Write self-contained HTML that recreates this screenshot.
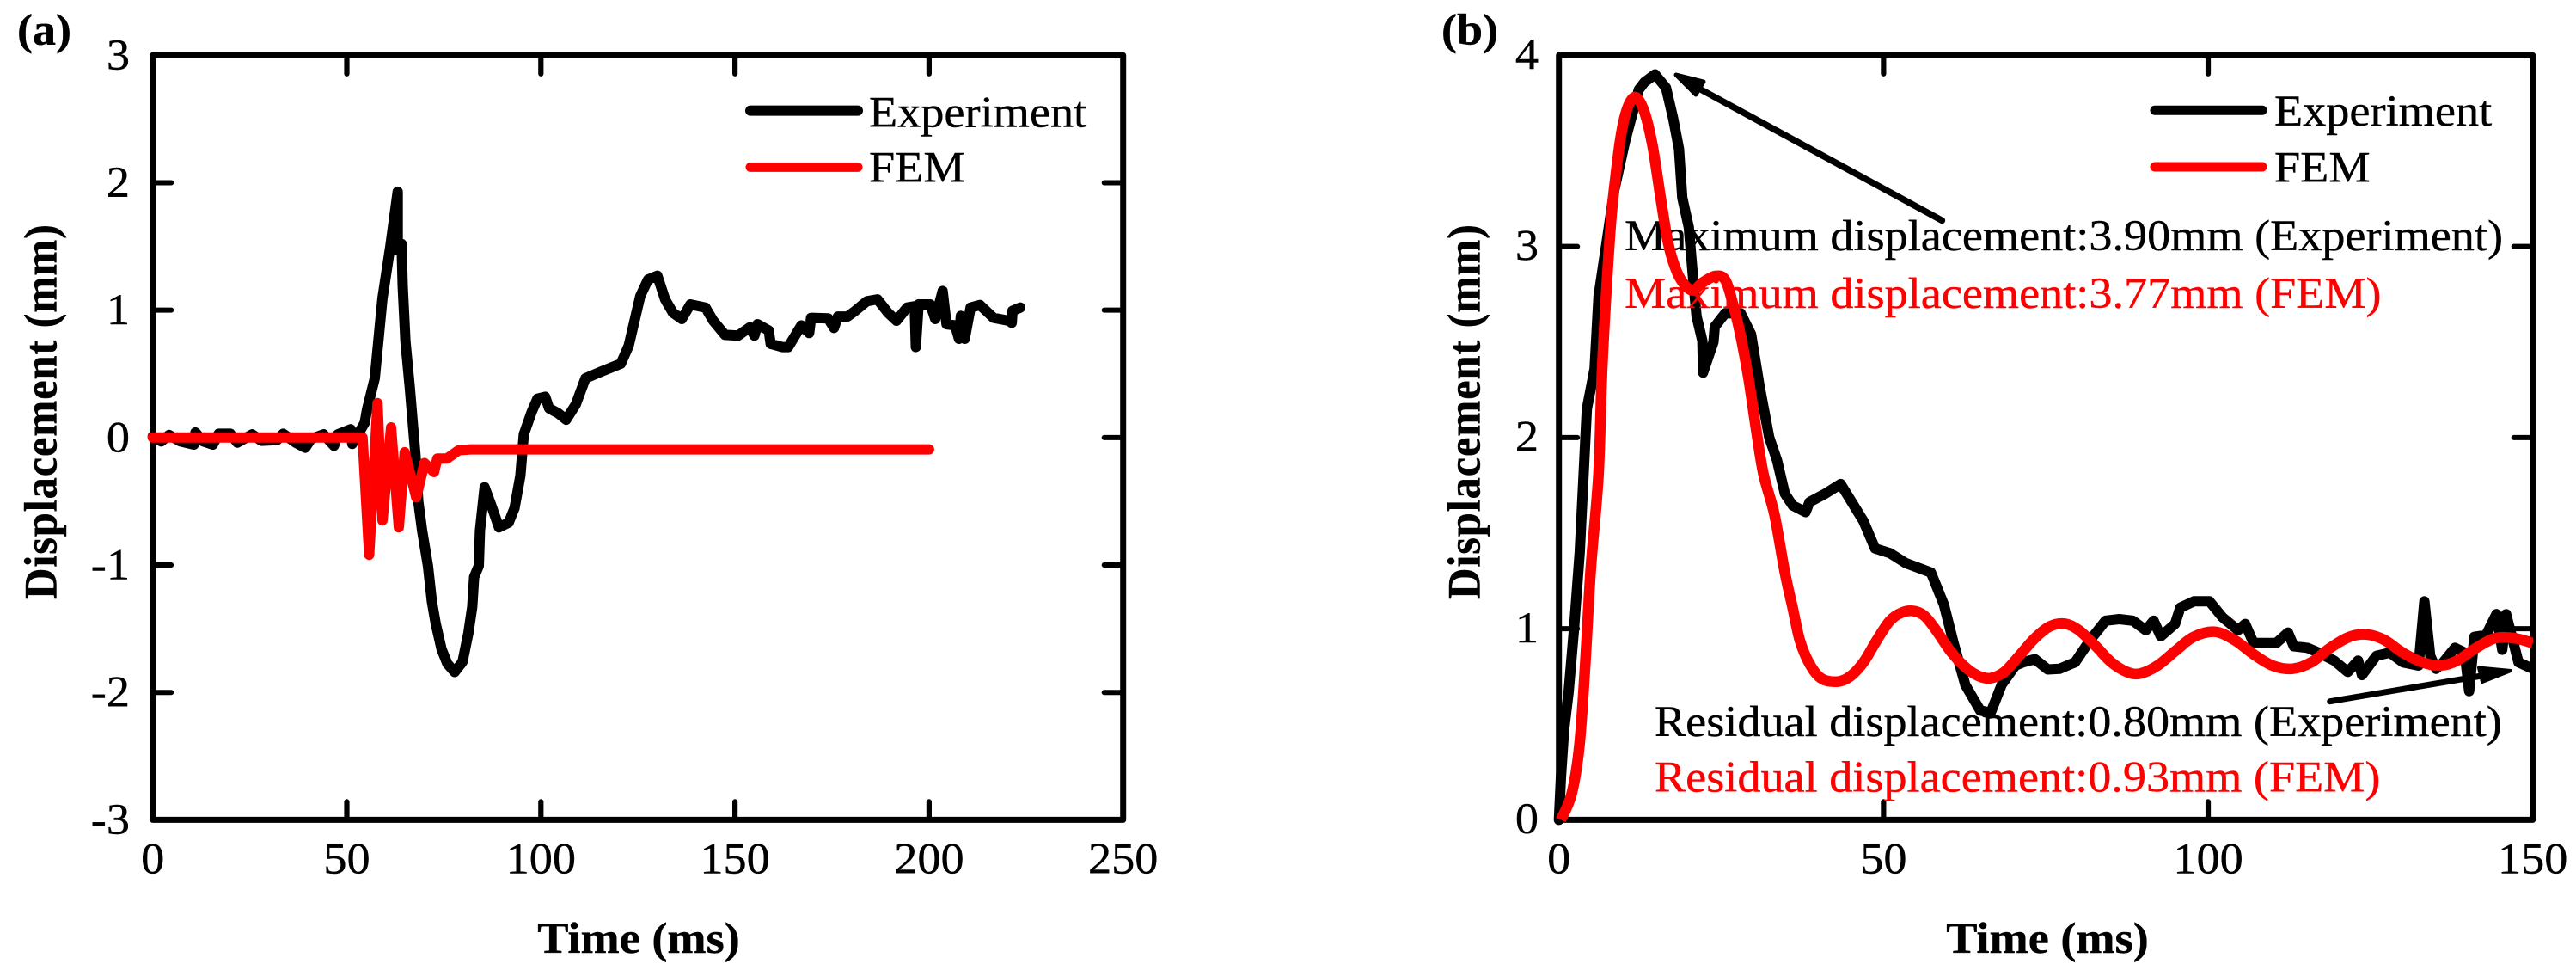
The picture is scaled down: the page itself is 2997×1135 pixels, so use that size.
<!DOCTYPE html>
<html lang="en">
<head>
<meta charset="utf-8">
<title>Displacement versus time: experiment and FEM</title>
<style>
html,body{margin:0;padding:0;background:#fff;}
body{width:2997px;height:1135px;overflow:hidden;}
svg{display:block;}
text{font-family:"Liberation Serif","Times New Roman",serif;font-size:50.5px;fill:#000;stroke:#000;stroke-width:0.4px;}
.b{font-weight:bold;}
.r{fill:#f00;stroke:#f00;}
</style>
</head>
<body>
<svg id="figure" xmlns="http://www.w3.org/2000/svg" width="2997" height="1135" viewBox="0 0 2997 1135">
  <rect x="0" y="0" width="2997" height="1135" fill="#fff"/>
  <defs>
    <clipPath id="clip-b"><rect x="1780" y="40" width="1167" height="960"/></clipPath>
  </defs>

  <g id="panel-a"></g>
  <g id="panel-b"></g>

  <text class="b" transform="translate(20 51.7) scale(1.07 1)">(a)</text>
  <text class="b" transform="translate(1677 51.7) scale(1.07 1)">(b)</text>

  <text class="b" text-anchor="middle" transform="translate(743 1108) scale(1.075 1)">Time (ms)</text>
  <text class="b" text-anchor="middle" transform="translate(2382 1108) scale(1.075 1)">Time (ms)</text>
  <text class="b" text-anchor="middle" transform="translate(65.6 479) scale(1.07 1) rotate(-90)" textLength="436">Displacement (mm)</text>
  <text class="b" text-anchor="middle" transform="translate(1721.4 479) scale(1.07 1) rotate(-90)" textLength="436">Displacement (mm)</text>

  <g>
    <line x1="873" y1="128.6" x2="998" y2="128.6" stroke="#000" stroke-width="12" stroke-linecap="round"/>
    <text transform="translate(1011 147.3) scale(1.075 1)">Experiment</text>
    <line x1="873" y1="194.4" x2="998" y2="194.4" stroke="#f00" stroke-width="11" stroke-linecap="round"/>
    <text transform="translate(1011 211.6) scale(1.075 1)">FEM</text>
  </g>
  <g>
    <line x1="2507" y1="128.2" x2="2632" y2="128.2" stroke="#000" stroke-width="11" stroke-linecap="round"/>
    <text transform="translate(2646 146) scale(1.075 1)">Experiment</text>
    <line x1="2507" y1="194" x2="2632" y2="194" stroke="#f00" stroke-width="11" stroke-linecap="round"/>
    <text transform="translate(2646 211.6) scale(1.075 1)">FEM</text>
  </g>
</svg>
<script>
// Panel (a) values
var aExpTime = [0,2.2,4.2,7.1,10.6,11,13,15.5,17,20,21.8,25.6,28,32,33.6,36.8,39.3,40.8,44,46.7,47.7,51,51.4,53,54.6,55.2,57.2,59.2,61.2,63.1,63.1,64.1,64.4,65.1,66.2,67.7,68.4,69.4,70.9,71.9,72.9,74.4,75.9,77.8,79.8,81.3,82.3,82.8,84,84.3,85.5,87.2,89.2,91.7,93.2,94.7,95.6,97.6,99.1,101.1,102.1,104.5,106.5,109,111.5,115.7,120.6,122.6,125.6,127.6,130,132,134,136.3,138.5,142.4,144.4,147.4,150.8,153.8,155,155.8,158.7,159.2,162.2,163.7,167.1,169.1,169.6,174,175.5,176.5,179,181,184,186.7,189.4,191.6,194.3,196.3,196.6,197.3,200.3,201.6,203.5,204.5,206.7,207.7,208.2,209.2,210.7,213.1,216.6,220.5,221.3,221.5,223.5];
var aExpDisp = [0.01,-0.03,0.02,-0.03,-0.055,0.04,-0.03,-0.055,0.03,0.03,-0.04,0.025,-0.025,-0.02,0.03,-0.04,-0.08,-0.01,0.025,-0.065,0.025,0.065,-0.05,0.03,0.115,0.22,0.465,1.095,1.5,1.93,1.47,1.52,1.19,0.755,0.397,-0.14,-0.5,-0.73,-1.007,-1.284,-1.46,-1.66,-1.775,-1.84,-1.76,-1.535,-1.33,-1.095,-1.007,-0.73,-0.39,-0.53,-0.705,-0.667,-0.554,-0.3,0.025,0.2,0.305,0.32,0.23,0.19,0.14,0.26,0.465,0.52,0.58,0.72,1.11,1.24,1.27,1.085,0.98,0.93,1.045,1.02,0.917,0.806,0.8,0.865,0.8,0.89,0.84,0.736,0.71,0.71,0.88,0.82,0.94,0.935,0.86,0.95,0.95,0.995,1.07,1.085,0.98,0.917,1.02,1.03,0.71,1.045,1.045,0.93,1.15,0.89,0.88,0.775,0.955,0.775,1.02,1.04,0.94,0.917,0.9,0.995,1.02];
var aFemTime = [0,54.05,55.75,57.9,59.2,61.4,63.4,64.9,67.9,70,72.5,73.3,75.8,78.8,81.8,200];
var aFemDisp = [0,0,-0.92,0.27,-0.65,0.08,-0.705,-0.115,-0.47,-0.2,-0.27,-0.165,-0.165,-0.1,-0.093,-0.093];
var aXTicks = [0,50,100,150,200,250];
var aYTicks = [-3,-2,-1,0,1,2,3];

// Panel (b) values
var bExpTime = [0,0.3,0.8,1.5,2.3,3.2,4.3,5.5,6.1,7.3,8.5,10.2,12.3,13.2,14.8,16.5,17.6,18.5,19,20,20.6,21.2,22.1,22.2,23.8,24,25.6,28,29.6,30.9,32.4,33.6,34.8,36,38,38.6,41,43.4,46.9,48.7,51,53.4,57.3,59.3,60.8,62.6,64.9,66.5,68.2,70.3,71.5,73.3,75.3,77.1,79.5,81.8,84.2,86.3,88.4,90.4,91.6,92.7,94.9,95.7,97.8,100.2,102.2,104.6,105.7,107,110.5,112.3,113.2,115.3,117,119.4,121.5,123.1,123.7,125.9,128,130,132.4,133.3,134.2,135.1,136.2,138,139.5,140.2,141,142.8,144.4,145.3,145.9,147.8,150];
var bExpDisp = [0,0.22,0.47,0.67,0.99,1.4,2.15,2.36,2.74,3.01,3.29,3.55,3.82,3.86,3.9,3.83,3.67,3.51,3.255,3.1,2.86,2.635,2.506,2.34,2.5,2.58,2.65,2.65,2.54,2.27,2,1.88,1.706,1.645,1.61,1.663,1.706,1.757,1.563,1.42,1.395,1.344,1.294,1.126,0.925,0.706,0.572,0.56,0.707,0.807,0.824,0.841,0.787,0.79,0.824,0.94,1.042,1.05,1.042,0.992,1.042,0.96,1.025,1.11,1.143,1.143,1.06,0.992,1.025,0.925,0.925,0.98,0.908,0.9,0.875,0.833,0.774,0.833,0.757,0.858,0.875,0.824,0.807,1.143,0.858,0.79,0.824,0.9,0.875,0.673,0.958,0.967,1.076,0.89,1.076,0.824,0.79];
var bFemTime = [0.3,1.96,3.15,4.04,4.9,6.1,6.7,7.9,8.77,9.65,10.7,11.9,13.2,14.4,15.6,16.75,17.9,19.1,20.6,22.1,24.1,25.6,26.8,28,29.2,30.35,31.5,33.2,34.8,36,37.1,38.6,40.4,42.8,44.8,46.9,49,51,52.8,54.6,56.3,58.1,60.5,62.9,64.9,66.6,68.6,70.9,73.3,75.6,77.9,80.1,82.7,85.1,87.5,89.5,92.2,95.2,97.8,101,104,107,109.9,112.9,115.9,118.8,121.8,124.4,127.1,130,133,135.7,138.3,141.3,144.2,147.2,150];
var bFemDisp = [0,0.136,0.388,0.807,1.31,1.81,2.39,3.08,3.376,3.6,3.737,3.78,3.7,3.53,3.27,3.03,2.89,2.81,2.77,2.81,2.845,2.825,2.7,2.53,2.31,2.05,1.81,1.596,1.294,1.11,0.94,0.816,0.74,0.723,0.749,0.824,0.942,1.042,1.084,1.093,1.067,0.992,0.874,0.79,0.749,0.742,0.774,0.858,0.95,1.012,1.026,0.992,0.908,0.824,0.774,0.765,0.807,0.891,0.958,0.984,0.942,0.866,0.807,0.79,0.824,0.9,0.958,0.97,0.942,0.874,0.824,0.807,0.832,0.9,0.95,0.95,0.925];
var bXTicks = [0,50,100,150];
var bYTicks = [0,1,2,3,4];

var SVGNS = 'http://www.w3.org/2000/svg';

function make(tag, attrs, parent) {
  var el = document.createElementNS(SVGNS, tag);
  for (var k in attrs) { el.setAttribute(k, attrs[k]); }
  parent.appendChild(el);
  return el;
}

function scale(d0, d1, p0, p1) {
  return function (v) { return p0 + (v - d0) * (p1 - p0) / (d1 - d0); };
}

function pathFrom(ts, ds, fx, fy) {
  var s = '';
  for (var i = 0; i < ts.length; i++) {
    s += (i ? 'L' : 'M') + fx(ts[i]).toFixed(1) + ' ' + fy(ds[i]).toFixed(1);
  }
  return s;
}

// Smooth curve through the same read points (Catmull-Rom to Bezier).
function smoothPathFrom(ts, ds, fx, fy) {
  var px = ts.map(fx), py = ds.map(fy), n = ts.length;
  var s = 'M' + px[0].toFixed(1) + ' ' + py[0].toFixed(1);
  for (var i = 0; i < n - 1; i++) {
    var a = Math.max(i - 1, 0), d = Math.min(i + 2, n - 1), b = i + 1;
    var c1x = px[i] + (px[b] - px[a]) / 6, c1y = py[i] + (py[b] - py[a]) / 6;
    var c2x = px[b] - (px[d] - px[i]) / 6, c2y = py[b] - (py[d] - py[i]) / 6;
    s += 'C' + c1x.toFixed(1) + ' ' + c1y.toFixed(1) + ' ' + c2x.toFixed(1) + ' ' + c2y.toFixed(1) + ' ' + px[b].toFixed(1) + ' ' + py[b].toFixed(1);
  }
  return s;
}

function drawAxes(group, prefix, fx, fy, xTicks, yTicks, labelEndX, baselineShift) {
  var xMin = xTicks[0], xMax = xTicks[xTicks.length - 1];
  var yMin = yTicks[0], yMax = yTicks[yTicks.length - 1];
  var frame = make('rect', {x: fx(xMin), y: fy(yMax), width: fx(xMax) - fx(xMin), height: fy(yMin) - fy(yMax), fill: 'none', stroke: '#000', 'stroke-width': 7, 'stroke-linejoin': 'round'}, group);
  
  

  xTicks.forEach(function (v, i) {
    if (i > 0 && i < xTicks.length - 1) {
      var bottomTick = make('line', {x1: fx(v), x2: fx(v), y1: fy(yMin), y2: fy(yMin) - 21, stroke: '#000', 'stroke-width': 6.2, 'stroke-linecap': 'round'}, group);
      
      
      var topTick = make('line', {x1: fx(v), x2: fx(v), y1: fy(yMax), y2: fy(yMax) + 21.5, stroke: '#000', 'stroke-width': 6.2, 'stroke-linecap': 'round'}, group);
      
      
    }
    var xLabel = make('text', {'text-anchor': 'middle', transform: 'translate(' + fx(v) + ' 1015.7) scale(1.075 1)'}, group);
    xLabel.textContent = String(v);
    
    
  });

  yTicks.forEach(function (v, i) {
    if (i > 0 && i < yTicks.length - 1) {
      var leftTick = make('line', {x1: fx(xMin), x2: fx(xMin) + 21.5, y1: fy(v), y2: fy(v), stroke: '#000', 'stroke-width': 6, 'stroke-linecap': 'round'}, group);
      
      
      var rightTick = make('line', {x1: fx(xMax), x2: fx(xMax) - 22, y1: fy(v), y2: fy(v), stroke: '#000', 'stroke-width': 6, 'stroke-linecap': 'round'}, group);
      
      
    }
    var yLabel = make('text', {'text-anchor': 'end', transform: 'translate(' + labelEndX + ' ' + (fy(v) + baselineShift) + ') scale(1.075 1)'}, group);
    yLabel.textContent = String(v);
    
    
  });
}

// Panel (a)
var groupA = document.getElementById('panel-a');
var xA = scale(0, 250, 177.7, 1306.7);
var yA = scale(-3, 3, 953.4, 64.3);
drawAxes(groupA, 'panel-a', xA, yA, aXTicks, aYTicks, 151, 16.5);

var lineAExp = make('path', {d: pathFrom(aExpTime, aExpDisp, xA, yA), fill: 'none', stroke: '#000', 'stroke-width': 12, 'stroke-linejoin': 'round', 'stroke-linecap': 'round'}, groupA);



var lineAFem = make('path', {d: pathFrom(aFemTime, aFemDisp, xA, yA), fill: 'none', stroke: '#f00', 'stroke-width': 12, 'stroke-linejoin': 'round', 'stroke-linecap': 'round'}, groupA);



// Panel (b)
var groupB = document.getElementById('panel-b');
var xB = scale(0, 150, 1813.7, 2946.7);
var yB = scale(0, 4, 953.4, 64.3);
drawAxes(groupB, 'panel-b', xB, yB, bXTicks, bYTicks, 1790, 15.8);

var lineBExp = make('path', {d: pathFrom(bExpTime, bExpDisp, xB, yB), fill: 'none', stroke: '#000', 'stroke-width': 12, 'stroke-linejoin': 'round', 'stroke-linecap': 'round', 'clip-path': 'url(#clip-b)'}, groupB);



var notes = [
  {name: 'max-displacement-experiment-note', text: 'Maximum displacement:3.90mm (Experiment)', x: 1890, y: 291, cls: ''},
  {name: 'max-displacement-fem-note', text: 'Maximum displacement:3.77mm (FEM)', x: 1890, y: 358, cls: 'r'},
  {name: 'residual-displacement-experiment-note', text: 'Residual displacement:0.80mm (Experiment)', x: 1925, y: 856, cls: ''},
  {name: 'residual-displacement-fem-note', text: 'Residual displacement:0.93mm (FEM)', x: 1925, y: 920.5, cls: 'r'}
];
notes.forEach(function (n) {
  var note = make('text', {'class': n.cls, transform: 'translate(' + n.x + ' ' + n.y + ') scale(1.0735 1)'}, groupB);
  note.textContent = n.text;
  
  
});

var lineBFem = make('path', {d: smoothPathFrom(bFemTime, bFemDisp, xB, yB), fill: 'none', stroke: '#f00', 'stroke-width': 12.5, 'stroke-linejoin': 'round', 'stroke-linecap': 'butt', 'clip-path': 'url(#clip-b)'}, groupB);



// Annotation arrows
var maxShaft = make('line', {x1: 2259.4, y1: 256.4, x2: 1975, y2: 102, stroke: '#000', 'stroke-width': 7.5, 'stroke-linecap': 'round'}, groupB);


var maxHead = make('polygon', {points: '1950,87 1982,95 1973,110', fill: '#000', stroke: '#000', 'stroke-width': 5, 'stroke-linejoin': 'round'}, groupB);


var resShaft = make('line', {x1: 2710.7, y1: 815.7, x2: 2890, y2: 785.5, stroke: '#000', 'stroke-width': 7, 'stroke-linecap': 'round'}, groupB);


var resHead = make('polygon', {points: '2921,780 2884,776.5 2888,793', fill: '#000', stroke: '#000', 'stroke-width': 4, 'stroke-linejoin': 'round'}, groupB);


</script>
</body>
</html>
